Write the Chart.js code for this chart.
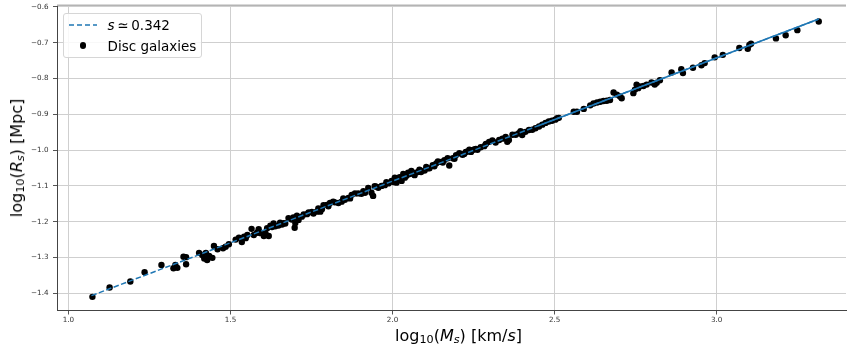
<!DOCTYPE html>
<html><head><meta charset="utf-8">
<script src="https://cdn.jsdelivr.net/npm/chart.js@4.4.0/dist/chart.umd.min.js"></script>
<style>
html,body{margin:0;padding:0;background:#fff;}
#wrap{position:relative;width:850px;height:349px;overflow:hidden;font-family:'DejaVu Sans',sans-serif;color:#000;}
#c{position:absolute;left:0;top:0;width:850px;height:349px;}
.xt{position:absolute;left:458.5px;top:328px;transform:translateX(-50%);font-size:16px;line-height:16px;white-space:nowrap;}
.yt{position:absolute;left:17.2px;top:158px;transform:translate(-50%,-50%) rotate(-90deg);font-size:16px;line-height:16px;white-space:nowrap;}
sub{font-size:0.7em;vertical-align:-0.2em;line-height:0;}
.leg{position:absolute;left:63px;top:12.5px;width:139px;height:45.5px;border:1px solid #d6d6d6;border-radius:3px;background:rgba(255,255,255,0.85);box-sizing:border-box;}
.dash{position:absolute;left:5px;top:10.5px;width:27.5px;height:1.5px;background:repeating-linear-gradient(90deg,#1f77b4 0 5.5px,transparent 5.5px 8px);opacity:0.75;}
.dot{position:absolute;left:15.5px;top:28.8px;width:6.4px;height:6.4px;border-radius:50%;background:#000;}
.lt{position:absolute;left:43.5px;font-size:13.5px;line-height:14px;white-space:nowrap;}
</style></head>
<body>
<div id="wrap">
<canvas id="c" width="850" height="349"></canvas>
<div class="xt">log<sub>10</sub>(<i>M<sub>s</sub></i>) [km/<i>s</i>]</div>
<div class="yt">log<sub>10</sub>(<i>R<sub>s</sub></i>) [Mpc]</div>
<div class="leg">
  <div class="dash"></div>
  <div class="lt" style="top:4px;"><i>s</i>&#8201;&#8771;&#8201;0.342</div>
  <div class="dot"></div>
  <div class="lt" style="top:25px;">Disc galaxies</div>
</div>
</div>
<script>
// log10(M_s) of each disc galaxy
const galaxyLogM = [
1.074,1.127,1.191,1.235,1.287,1.324,1.330,1.336,1.355,1.363,1.363,1.403,1.413,1.419,1.424,1.428,1.434,1.444,1.449,1.460,1.477,1.485,1.495,
1.516,1.526,1.535,1.542,1.547,1.552,1.565,1.572,1.582,1.587,1.593,1.603,1.608,1.613,1.618,1.623,1.628,1.633,1.638,1.648,1.653,1.659,1.664,1.669,
1.679,1.689,1.694,1.698,1.700,1.705,1.710,1.720,1.726,1.736,1.741,1.751,1.756,1.766,1.771,1.777,1.782,1.787,1.797,1.802,1.807,1.817,1.822,
1.833,1.843,1.848,1.853,1.864,1.869,1.874,1.884,1.894,1.904,1.910,1.915,1.925,1.935,1.940,1.945,1.950,1.956,1.966,1.976,1.981,1.987,1.997,
2.002,2.007,2.012,2.017,2.022,2.028,2.033,2.038,2.043,2.048,2.053,2.058,2.063,2.068,2.078,2.083,2.088,2.099,2.104,2.109,2.114,2.124,2.129,
2.135,2.140,2.150,2.155,2.160,2.170,2.175,2.186,2.191,2.196,2.206,2.216,2.221,2.226,2.232,2.237,2.242,2.247,2.252,2.257,2.262,2.272,2.283,
2.288,2.298,2.308,2.318,2.329,2.339,2.349,2.354,2.359,2.370,2.380,2.390,2.395,2.400,2.410,2.421,2.431,2.441,2.452,2.462,2.472,2.482,2.492,
2.502,2.508,2.513,2.559,2.569,2.590,2.610,2.620,2.631,2.641,2.651,2.661,2.671,2.682,2.692,2.702,2.707,2.743,2.748,2.753,2.758,2.763,2.774,
2.784,2.799,2.809,2.815,2.825,2.861,2.891,2.896,2.927,2.953,2.963,2.994,3.019,3.070,3.096,3.101,3.106,3.183,3.213,3.249,3.315
];
// log10(R_s) of each disc galaxy
const galaxyLogR = [
-1.410,-1.384,-1.367,-1.341,-1.321,-1.330,-1.321,-1.329,-1.298,-1.299,-1.319,-1.287,-1.293,-1.303,-1.287,-1.307,-1.296,-1.301,-1.268,-1.277,-1.274,-1.270,-1.263,
-1.250,-1.245,-1.257,-1.242,-1.246,-1.237,-1.220,-1.237,-1.231,-1.221,-1.232,-1.240,-1.233,-1.218,-1.240,-1.211,-1.215,-1.205,-1.213,-1.211,-1.203,-1.208,-1.204,-1.205,
-1.190,-1.194,-1.188,-1.217,-1.204,-1.183,-1.195,-1.186,-1.180,-1.179,-1.174,-1.173,-1.177,-1.172,-1.163,-1.172,-1.165,-1.154,-1.153,-1.157,-1.148,-1.144,-1.146,
-1.148,-1.144,-1.135,-1.139,-1.134,-1.135,-1.125,-1.121,-1.121,-1.122,-1.115,-1.119,-1.106,-1.119,-1.128,-1.101,-1.102,-1.105,-1.100,-1.098,-1.090,-1.093,-1.086,
-1.089,-1.077,-1.091,-1.082,-1.076,-1.086,-1.067,-1.077,-1.072,-1.063,-1.067,-1.058,-1.063,-1.070,-1.061,-1.055,-1.061,-1.057,-1.047,-1.051,-1.051,-1.042,-1.045,
-1.037,-1.032,-1.033,-1.035,-1.028,-1.023,-1.043,-1.023,-1.024,-1.014,-1.009,-1.013,-1.011,-1.005,-1.004,-0.999,-1.005,-1.000,-0.998,-0.997,-0.999,-0.992,-0.989,
-0.983,-0.977,-0.973,-0.979,-0.972,-0.968,-0.963,-0.977,-0.972,-0.957,-0.957,-0.953,-0.947,-0.958,-0.949,-0.944,-0.943,-0.939,-0.934,-0.929,-0.924,-0.920,-0.918,
-0.915,-0.911,-0.910,-0.893,-0.893,-0.885,-0.875,-0.870,-0.867,-0.865,-0.863,-0.862,-0.860,-0.839,-0.845,-0.850,-0.855,-0.841,-0.831,-0.817,-0.827,-0.822,-0.821,
-0.817,-0.811,-0.817,-0.812,-0.805,-0.783,-0.774,-0.785,-0.770,-0.763,-0.757,-0.741,-0.734,-0.715,-0.717,-0.706,-0.703,-0.688,-0.679,-0.665,-0.641
];
// fitted relation (dashed) endpoints
const fitLogM = [1.071, 3.315];
const fitLogR = [-1.4066, -0.634];
// upper segment where the fit line appears solid
const solidLogM = [2.45, 3.315];
const solidLogR = [-0.9318, -0.634];
// axes
const xTicks = [1.0, 1.5, 2.0, 2.5, 3.0];
const yTicks = [-1.4, -1.3, -1.2, -1.1, -1.0, -0.9, -0.8, -0.7, -0.6];
const xRange = [0.9647, 3.3991];
const yRange = [-1.4481, -0.5947];

const pts = (xs, ys) => xs.map((x, i) => ({x: x, y: ys[i]}));
const fmt = v => Number(v).toFixed(1).replace('-', '\u2212');

const topSpine = {
  id: 'topSpine',
  afterDraw(chart) {
    const {ctx, chartArea} = chart;
    ctx.save();
    ctx.strokeStyle = '#b4b4b4';
    ctx.lineWidth = 1.5;
    ctx.beginPath();
    ctx.moveTo(chartArea.left, chartArea.top + 0.25);
    ctx.lineTo(chartArea.right, chartArea.top + 0.25);
    ctx.stroke();
    ctx.restore();
  }
};

const tickFont = {family: 'DejaVu Sans', size: 7.2};

new Chart(document.getElementById('c'), {
  type: 'scatter',
  data: {
    datasets: [
      {label: 's', data: pts(fitLogM, fitLogR), showLine: true, borderColor: '#1f77b4', borderWidth: 1.5,
       borderDash: [5.5, 2.4], pointRadius: 0, fill: false},
      {label: 'solid', data: pts(solidLogM, solidLogR), showLine: true, borderColor: '#1f77b4', borderWidth: 1.5,
       pointRadius: 0, fill: false},
      {label: 'Disc galaxies', data: pts(galaxyLogM, galaxyLogR), backgroundColor: '#000', borderColor: '#000',
       borderWidth: 0, pointRadius: 3.2}
    ]
  },
  options: {
    responsive: false, animation: false, devicePixelRatio: 1,
    layout: {padding: {top: 5, left: 0, right: -4, bottom: 0}},
    plugins: {legend: {display: false}, tooltip: {enabled: false}},
    scales: {
      x: {
        type: 'linear', min: xRange[0], max: xRange[1],
        afterFit: s => { s.height = 38.5; s.paddingLeft = 0; s.paddingRight = 0; },
        afterBuildTicks: s => { s.ticks = xTicks.map(v => ({value: v})); },
        ticks: {font: tickFont, color: '#333', padding: 1.5, maxRotation: 0, autoSkip: false, callback: v => fmt(v)},
        grid: {color: '#cfcfcf', lineWidth: 1, tickLength: 4, tickColor: '#555', tickWidth: 1},
        border: {display: true, color: '#444', width: 1}
      },
      y: {
        type: 'linear', min: yRange[0], max: yRange[1],
        afterFit: s => { s.width = 57; s.paddingTop = 0; s.paddingBottom = 0; },
        afterBuildTicks: s => { s.ticks = yTicks.map(v => ({value: v})); },
        ticks: {font: tickFont, color: '#333', padding: 4.5, autoSkip: false, callback: v => fmt(v)},
        grid: {color: '#cfcfcf', lineWidth: 1, tickLength: 4, tickColor: '#555', tickWidth: 1},
        border: {display: true, color: '#444', width: 1}
      }
    }
  },
  plugins: [topSpine]
});
</script>
</body></html>
